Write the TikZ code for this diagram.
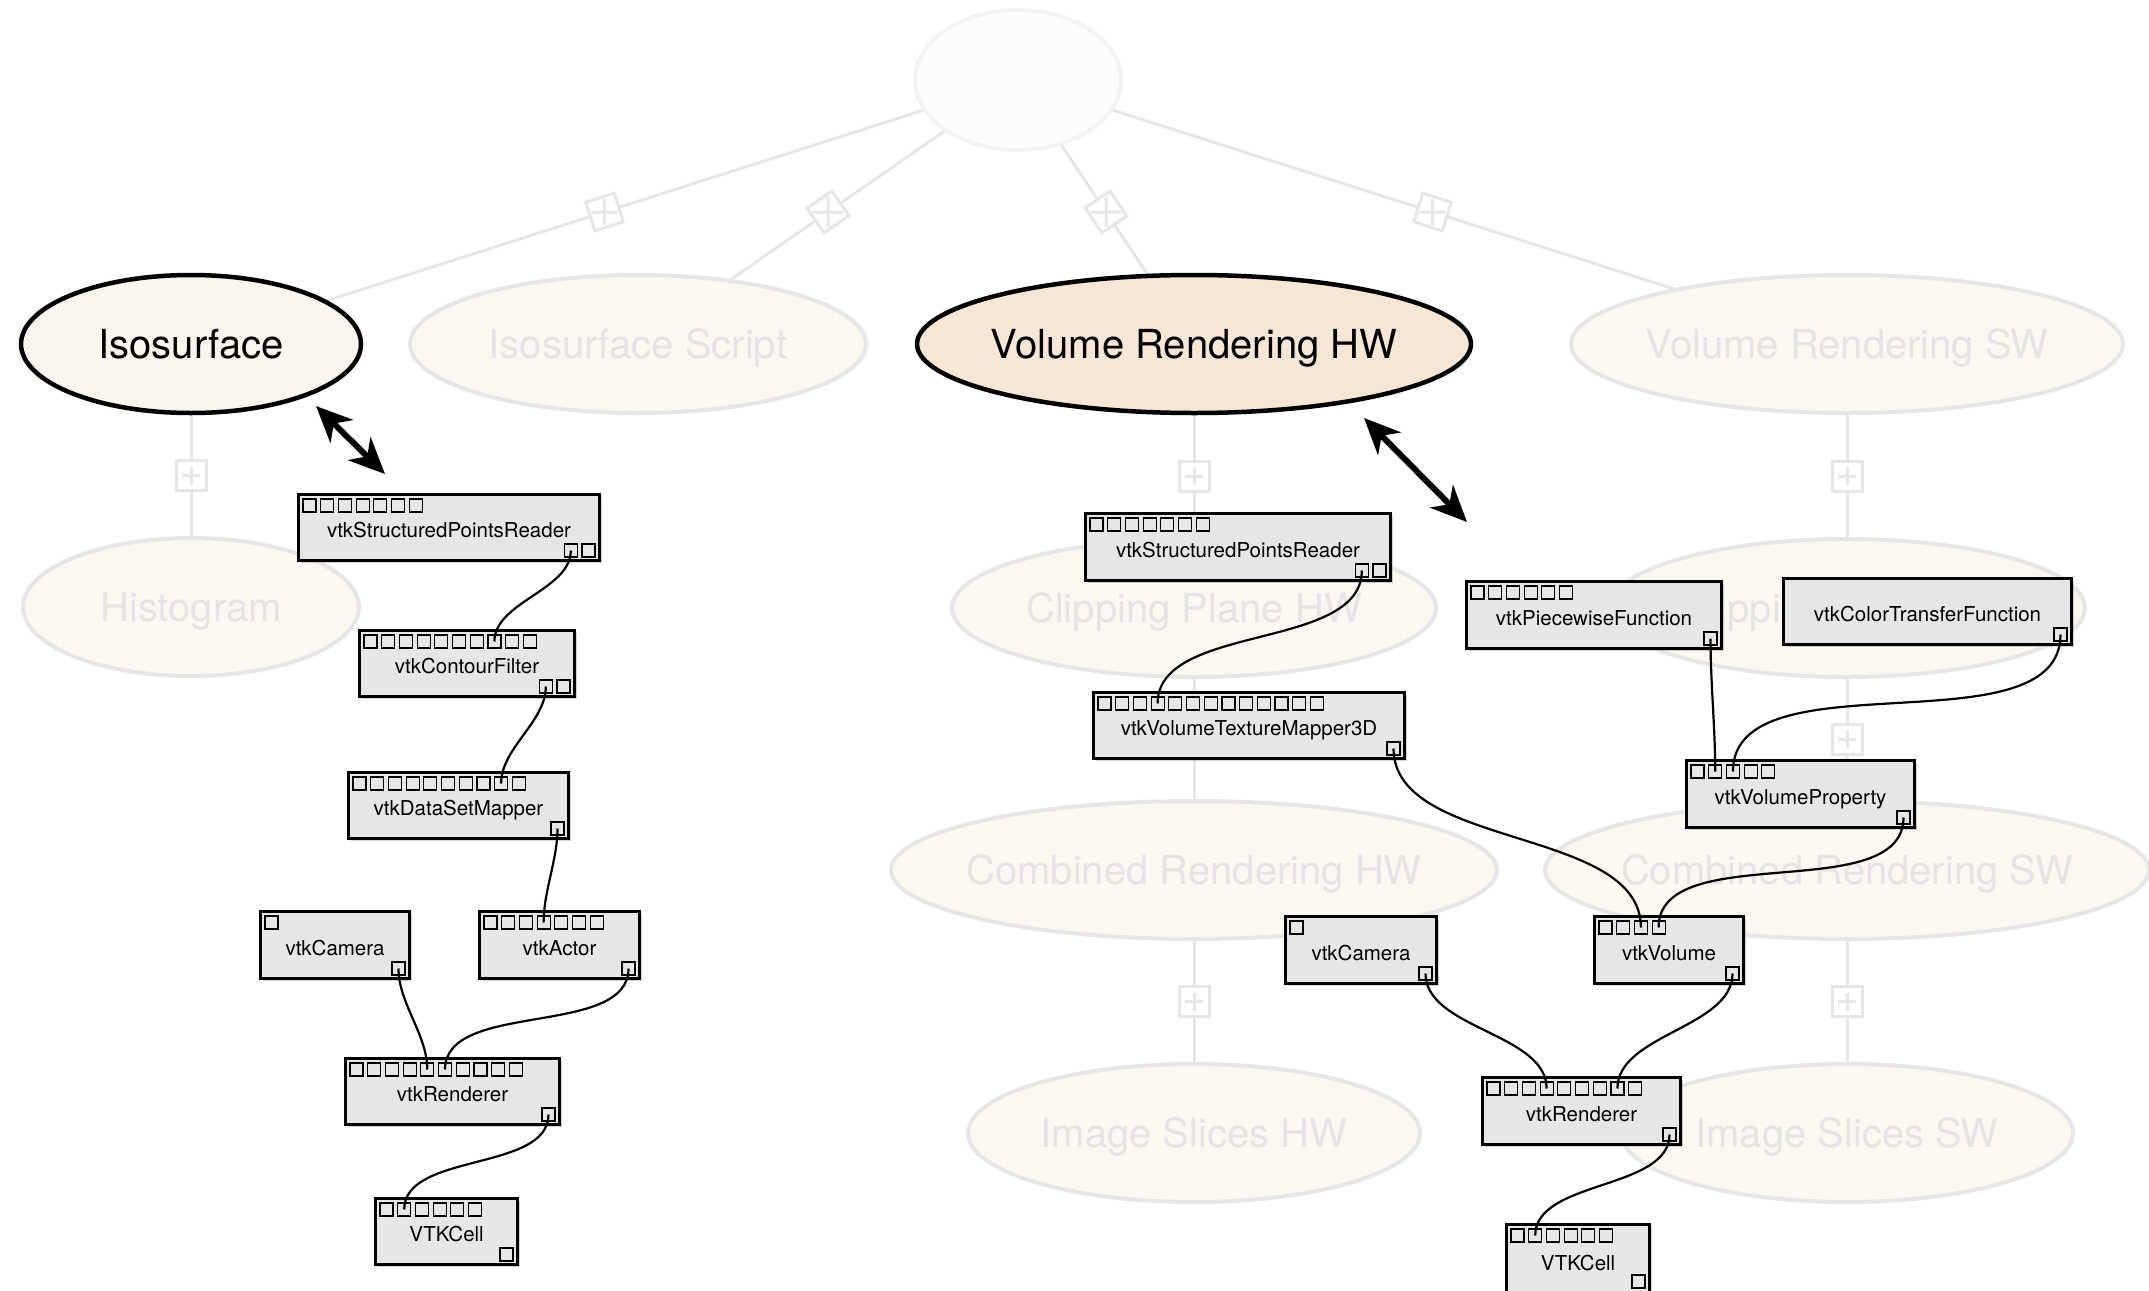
\documentclass[tikz,border=0pt]{standalone}
\usepackage{fontspec}
\setmainfont{TeX Gyre Heros}
\usetikzlibrary{shapes.geometric,arrows.meta,calc,shadows,backgrounds}
\definecolor{fadeline}{HTML}{E6E6E6}
\definecolor{fadefill}{HTML}{FBF7F1}
\definecolor{fadetext}{HTML}{E4E4E4}
\definecolor{rootline}{HTML}{F3F3F3}
\definecolor{rootfill}{HTML}{FCFCFC}
\definecolor{isofill}{HTML}{F9F4EC}
\definecolor{vrfill}{HTML}{F6E6D5}
\definecolor{boxgray}{HTML}{E6E6E6}
\begin{document}
\begin{tikzpicture}[x=1pt, y=-1pt,
    every node/.style={inner sep=0pt},
    faded/.style={ellipse, draw=fadeline, line width=4pt, fill=fadefill, text=fadetext,
      font=\fontsize{40}{44}\selectfont, text height=29pt, text depth=0pt},
    chosen/.style={ellipse, draw=black, line width=4.5pt,
      font=\fontsize{40}{44}\selectfont, text height=29pt, text depth=0pt},
    treeedge/.style={draw=fadeline, line width=3pt},
    plusbox/.style={rectangle, draw=fadeline, fill=white, line width=3pt, minimum size=30pt, sloped,
      path picture={
        \draw[fadeline, line width=3pt, shorten >=6pt, shorten <=6pt] (path picture bounding box.north) -- (path picture bounding box.south);
        \draw[fadeline, line width=3pt, shorten >=6pt, shorten <=6pt] (path picture bounding box.west) -- (path picture bounding box.east);}},
    module/.style={rectangle, draw, line width=3pt, fill=boxgray, anchor=north west,
      font=\fontsize{20.5}{24}\selectfont, text height=20pt, text depth=0pt,
      drop shadow={shadow xshift=2.5pt, shadow yshift=-2.5pt, opacity=.35}},
    port/.style={rectangle, draw, line width=1.2pt, minimum size=13pt},
    pipe/.style={line width=2.2pt, out=-90, in=90, looseness=.85},
    linkarrow/.style={line width=6pt, {Stealth[length=36pt, width=32pt, inset=11pt]}-{Stealth[length=36pt, width=32pt, inset=11pt]}}]
  \useasboundingbox (0,0) rectangle (2149,1290);

  % use case tree
  \node[faded, draw=rootline, fill=rootfill, minimum width=206pt, minimum height=140pt] (root) at (1018,80) {};
  \node[chosen, fill=isofill, minimum width=340pt, minimum height=138pt] (iso) at (191,344) {\makebox[0pt]{Isosurface}};
  \node[faded, minimum width=456pt, minimum height=138pt] (isoscr) at (638,344) {\makebox[0pt]{Isosurface Script}};
  \node[chosen, fill=vrfill, minimum width=554pt, minimum height=138pt] (vrhw) at (1194,344) {\makebox[0pt]{Volume Rendering HW}};
  \node[faded, minimum width=552pt, minimum height=138pt] (vrsw) at (1847,344) {\makebox[0pt]{Volume Rendering SW}};
  \node[faded, minimum width=336pt, minimum height=138pt] (hist) at (191,607) {\makebox[0pt]{Histogram}};
  \node[faded, minimum width=484pt, minimum height=138pt] (cliphw) at (1194,608) {\makebox[0pt]{Clipping Plane HW}};
  \node[faded, minimum width=476pt, minimum height=138pt] (clipsw) at (1847,608) {\makebox[0pt]{Clipping Plane SW}};
  \node[faded, minimum width=606pt, minimum height=138pt] (combhw) at (1194,870) {\makebox[0pt]{Combined Rendering HW}};
  \node[faded, minimum width=604pt, minimum height=138pt] (combsw) at (1847,870) {\makebox[0pt]{Combined Rendering SW}};
  \node[faded, minimum width=452pt, minimum height=138pt] (slicehw) at (1194,1133) {\makebox[0pt]{Image Slices HW}};
  \node[faded, minimum width=452pt, minimum height=138pt] (slicesw) at (1847,1133) {\makebox[0pt]{Image Slices SW}};

  \begin{scope}[on background layer]
    \foreach \a/\b in {root/iso, root/isoscr, root/vrhw, root/vrsw, iso/hist, vrhw/cliphw, cliphw/combhw,
        combhw/slicehw, vrsw/clipsw, clipsw/combsw, combsw/slicesw}
      \draw[treeedge] (\a.center) -- node[plusbox] {} (\b.center);
  \end{scope}

  % isosurface pipeline
  \node[module, minimum width=301pt, minimum height=66pt] (ls1) at (297,493) {vtkStructuredPointsReader};
  \node[module, minimum width=215pt, minimum height=66pt] (lcf) at (358,629) {vtkContourFilter};
  \node[module, minimum width=220pt, minimum height=66pt] (ldsm) at (347,771) {vtkDataSetMapper};
  \node[module, minimum width=149pt, minimum height=67pt] (lcam) at (259,910) {vtkCamera};
  \node[module, minimum width=160pt, minimum height=67pt] (lact) at (478,910) {vtkActor};
  \node[module, minimum width=214pt, minimum height=66pt] (lren) at (344,1057) {vtkRenderer};
  \node[module, minimum width=142pt, minimum height=66pt] (lcell) at (374,1197) {VTKCell};

  \foreach \i in {1,...,7} \node[port] (ls1-in\i) at ($(ls1.north west)+(-5.2+17.7*\i,12.5)$) {};
  \foreach \i in {1,2} \node[port] (ls1-out\i) at ($(ls1.south east)+(-47.9+17.7*\i,-11.5)$) {};
  \foreach \i in {1,...,10} \node[port] (lcf-in\i) at ($(lcf.north west)+(-5.2+17.7*\i,12.5)$) {};
  \foreach \i in {1,2} \node[port] (lcf-out\i) at ($(lcf.south east)+(-47.9+17.7*\i,-11.5)$) {};
  \foreach \i in {1,...,10} \node[port] (ldsm-in\i) at ($(ldsm.north west)+(-5.2+17.7*\i,12.5)$) {};
  \node[port] (ldsm-out1) at ($(ldsm.south east)+(-12.5,-11.5)$) {};
  \node[port] (lcam-in1) at ($(lcam.north west)+(12.5,12.5)$) {};
  \node[port] (lcam-out1) at ($(lcam.south east)+(-12.5,-11.5)$) {};
  \foreach \i in {1,...,7} \node[port] (lact-in\i) at ($(lact.north west)+(-5.2+17.7*\i,12.5)$) {};
  \node[port] (lact-out1) at ($(lact.south east)+(-12.5,-11.5)$) {};
  \foreach \i in {1,...,10} \node[port] (lren-in\i) at ($(lren.north west)+(-5.2+17.7*\i,12.5)$) {};
  \node[port] (lren-out1) at ($(lren.south east)+(-12.5,-11.5)$) {};
  \foreach \i in {1,...,6} \node[port] (lcell-in\i) at ($(lcell.north west)+(-5.2+17.7*\i,12.5)$) {};
  \node[port] (lcell-out1) at ($(lcell.south east)+(-12.5,-11.5)$) {};

  \draw[pipe] (ls1-out1.center) to (lcf-in8.center);
  \draw[pipe] (lcf-out1.center) to (ldsm-in9.center);
  \draw[pipe] (ldsm-out1.center) to (lact-in4.center);
  \draw[pipe] (lcam-out1.center) to (lren-in5.center);
  \draw[pipe] (lact-out1.center) to (lren-in6.center);
  \draw[pipe] (lren-out1.center) to (lcell-in2.center);

  % volume rendering pipeline
  \node[module, minimum width=305pt, minimum height=67pt] (rs1) at (1084,512) {vtkStructuredPointsReader};
  \node[module, minimum width=311pt, minimum height=66pt] (rvtm) at (1092,691) {vtkVolumeTextureMapper3D};
  \node[module, minimum width=255pt, minimum height=67pt] (rpw) at (1465,580) {vtkPiecewiseFunction};
  \node[module, minimum width=288pt, minimum height=66pt] (rctf) at (1782,577) {vtkColorTransferFunction};
  \node[module, minimum width=228pt, minimum height=67pt] (rvp) at (1685,759) {vtkVolumeProperty};
  \node[module, minimum width=151pt, minimum height=67pt] (rcam) at (1284,915) {vtkCamera};
  \node[module, minimum width=149pt, minimum height=67pt] (rvol) at (1593,915) {vtkVolume};
  \node[module, minimum width=198pt, minimum height=67pt] (rren) at (1481,1076) {vtkRenderer};
  \node[module, minimum width=143pt, minimum height=71pt] (rcell) at (1505,1223) {VTKCell};

  \foreach \i in {1,...,7} \node[port] (rs1-in\i) at ($(rs1.north west)+(-5.2+17.7*\i,12.5)$) {};
  \foreach \i in {1,2} \node[port] (rs1-out\i) at ($(rs1.south east)+(-47.9+17.7*\i,-11.5)$) {};
  \foreach \i in {1,...,13} \node[port] (rvtm-in\i) at ($(rvtm.north west)+(-5.2+17.7*\i,12.5)$) {};
  \node[port] (rvtm-out1) at ($(rvtm.south east)+(-12.5,-11.5)$) {};
  \foreach \i in {1,...,6} \node[port] (rpw-in\i) at ($(rpw.north west)+(-5.2+17.7*\i,12.5)$) {};
  \node[port] (rpw-out1) at ($(rpw.south east)+(-12.5,-11.5)$) {};
  \node[port] (rctf-out1) at ($(rctf.south east)+(-12.5,-11.5)$) {};
  \foreach \i in {1,...,5} \node[port] (rvp-in\i) at ($(rvp.north west)+(-5.2+17.7*\i,12.5)$) {};
  \node[port] (rvp-out1) at ($(rvp.south east)+(-12.5,-11.5)$) {};
  \node[port] (rcam-in1) at ($(rcam.north west)+(12.5,12.5)$) {};
  \node[port] (rcam-out1) at ($(rcam.south east)+(-12.5,-11.5)$) {};
  \foreach \i in {1,...,4} \node[port] (rvol-in\i) at ($(rvol.north west)+(-5.2+17.7*\i,12.5)$) {};
  \node[port] (rvol-out1) at ($(rvol.south east)+(-12.5,-11.5)$) {};
  \foreach \i in {1,...,9} \node[port] (rren-in\i) at ($(rren.north west)+(-5.2+17.7*\i,12.5)$) {};
  \node[port] (rren-out1) at ($(rren.south east)+(-12.5,-11.5)$) {};
  \foreach \i in {1,...,6} \node[port] (rcell-in\i) at ($(rcell.north west)+(-5.2+17.7*\i,12.5)$) {};
  \node[port] (rcell-out1) at ($(rcell.south east)+(-12.5,-15.5)$) {};

  \draw[pipe] (rs1-out1.center) to (rvtm-in4.center);
  \draw[pipe] (rvtm-out1.center) to (rvol-in3.center);
  \draw[pipe] (rpw-out1.center) to (rvp-in2.center);
  \draw[pipe] (rctf-out1.center) to (rvp-in3.center);
  \draw[pipe] (rvp-out1.center) to (rvol-in4.center);
  \draw[pipe] (rcam-out1.center) to (rren-in4.center);
  \draw[pipe] (rvol-out1.center) to (rren-in8.center);
  \draw[pipe] (rren-out1.center) to (rcell-in2.center);

  % links between use cases and pipelines
  \coordinate (isoTip) at (316,406);
  \coordinate (lpipeTip) at (385,474);
  \coordinate (vrTip) at (1364,418);
  \coordinate (rpipeTip) at (1467,522);
  \draw[linkarrow] (isoTip) -- (lpipeTip);
  \draw[linkarrow] (vrTip) -- (rpipeTip);
\end{tikzpicture}
\end{document}
